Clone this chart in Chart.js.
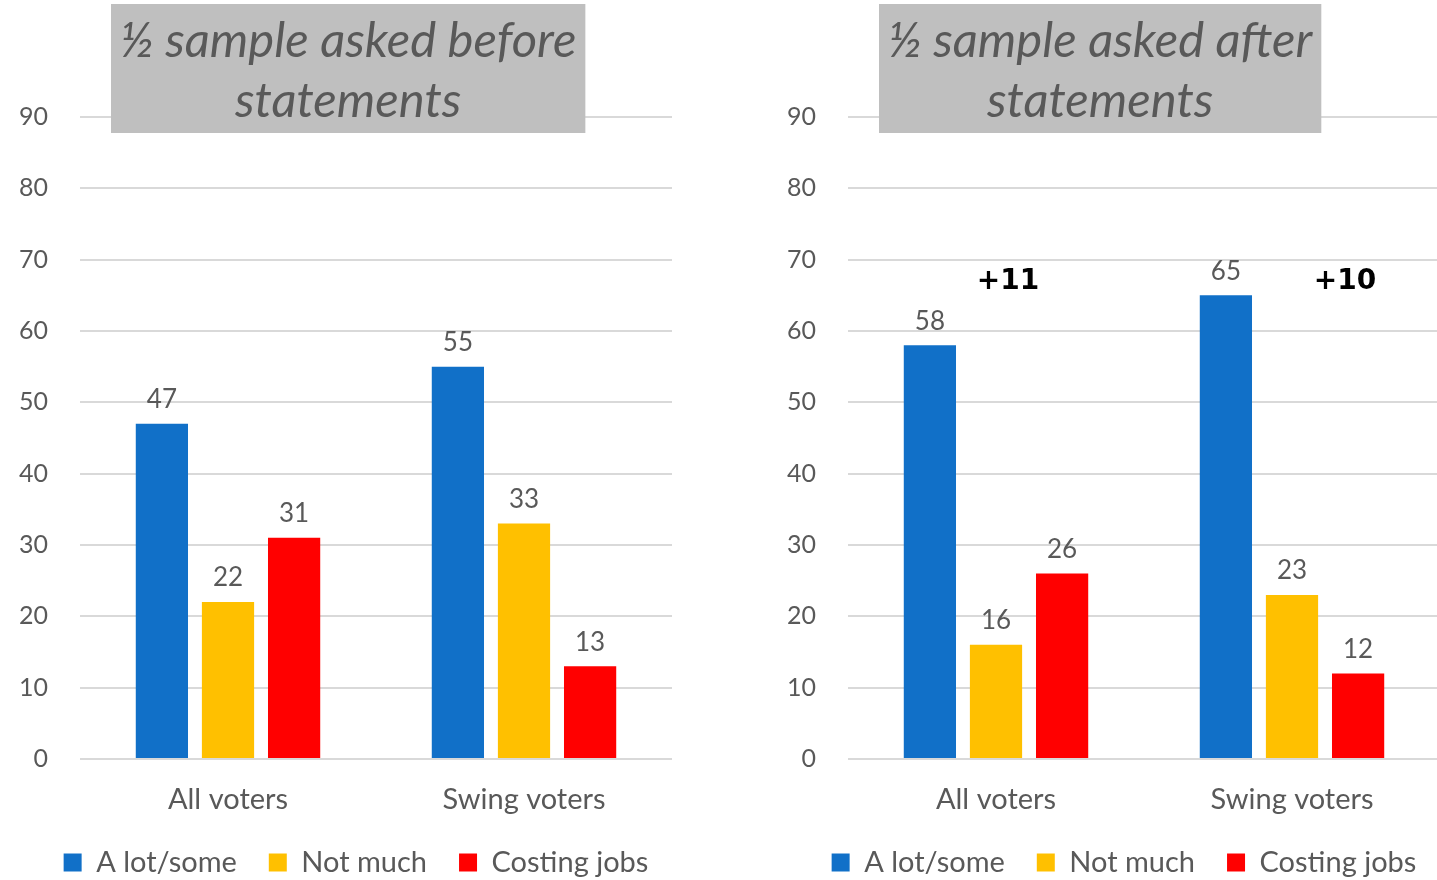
<!DOCTYPE html>
<html>
<head>
<meta charset="utf-8">
<script src="https://cdn.jsdelivr.net/npm/chart.js@4.4.0/dist/chart.umd.min.js"></script>
<style>
    body { margin: 0; width: 1437px; height: 880px; overflow: hidden; background: #fff; position: relative; }
    .panel { position: absolute; top: 0; width: 712px; height: 887px; }
</style>
</head>
<body>
<div class="panel" style="left:0"><canvas id="grafico1"></canvas></div>
<div class="panel" style="left:768px"><canvas id="grafico2"></canvas></div>
<script>
let categories = ['All voters', 'Swing voters']
let seriesNames = ['A lot/some', 'Not much', 'Costing jobs']
let seriesColors = ['#1170C8', '#FFC000', '#FF0000']
let yTicks = [0, 10, 20, 30, 40, 50, 60, 70, 80, 90]

let beforeALot = [47, 55]
let beforeNotMuch = [22, 33]
let beforeCosting = [31, 13]

let afterALot = [58, 65]
let afterNotMuch = [16, 23]
let afterCosting = [26, 12]

let titleBefore = ['\u00BD sample asked before', 'statements']
let titleAfter = ['\u00BD sample asked after', 'statements']

let changeNotes = ['+11', '+10']
let changeNoteShift = [12, 53]   // px from category centre
let changeNoteLevel = 66.9

const grey = '#595959'
const fontFamily = 'Lato, "Open Sans", sans-serif'

// numbers above the bars
const valueLabels = {
    id: 'valueLabels',
    afterDatasetsDraw(chart) {
        let ctx = chart.ctx
        ctx.save()
        ctx.font = '26px ' + fontFamily
        ctx.fillStyle = grey
        ctx.textAlign = 'center'
        ctx.textBaseline = 'bottom'
        chart.data.datasets.forEach((ds, i) => {
            chart.getDatasetMeta(i).data.forEach((bar, j) => {
                ctx.fillText(ds.data[j], bar.x, bar.y - 11)
            })
        })
        ctx.restore()
    }
}

// grey box with the italic title
const titleBox = {
    id: 'titleBox',
    afterDraw(chart, args, opts) {
        let ctx = chart.ctx
        ctx.save()
        ctx.font = 'italic 49px ' + fontFamily
        let w = Math.max(...opts.lines.map(l => ctx.measureText(l).width)) + 18
        ctx.fillStyle = '#BFBFBF'
        ctx.fillRect(111, 4, w, 129)
        ctx.fillStyle = grey
        ctx.textAlign = 'center'
        ctx.textBaseline = 'middle'
        opts.lines.forEach((l, i) => ctx.fillText(l, 111 + w / 2, 41 + i * 60))
        ctx.restore()
    }
}

// bold "+11" style notes
const notes = {
    id: 'notes',
    afterDatasetsDraw(chart, args, opts) {
        if (!opts.texts) return
        let ctx = chart.ctx
        let x = chart.scales.x, y = chart.scales.y
        ctx.save()
        ctx.font = 'bold 28px "DejaVu Sans", sans-serif'
        ctx.fillStyle = '#000'
        ctx.textAlign = 'center'
        ctx.textBaseline = 'middle'
        opts.texts.forEach((t, i) => {
            ctx.fillText(t, x.getPixelForValue(i) + opts.shift[i], y.getPixelForValue(opts.level))
        })
        ctx.restore()
    }
}

// legend sits centred a bit right of the plot, like the original
const legendShift = {
    id: 'legendShift',
    afterUpdate(chart) {
        chart.legend.left += 20
        chart.legend.right += 20
    }
}

function makeChart(id, aLot, notMuch, costing, title, noteTexts) {
    let values = [aLot, notMuch, costing]
    let ctx = document.getElementById(id)
    return new Chart(ctx, {
        type: 'bar',
        data: {
            labels: categories,
            datasets: values.map((v, i) => ({
                label: seriesNames[i],
                data: v,
                backgroundColor: seriesColors[i],
                borderWidth: 0,
                categoryPercentage: 0.67,
                barPercentage: 0.79
            }))
        },
        plugins: [valueLabels, titleBox, notes, legendShift],
        options: {
            responsive: true,
            maintainAspectRatio: false,
            animation: false,
            layout: { padding: { top: 117, right: 40, left: 0, bottom: 0 } },
            scales: {
                x: {
                    grid: { display: false },
                    border: { display: false },
                    afterFit: axis => { axis.height = 57 },
                    ticks: { color: grey, font: { family: fontFamily, size: 29 }, padding: 15 }
                },
                y: {
                    min: 0,
                    max: 90,
                    afterBuildTicks: axis => { axis.ticks = yTicks.map(v => ({ value: v })) },
                    afterFit: axis => { axis.width = 80 },
                    grid: { color: '#D9D9D9', lineWidth: 2, drawTicks: false },
                    border: { display: false },
                    ticks: { color: grey, font: { family: fontFamily, size: 25 }, padding: 32 }
                }
            },
            plugins: {
                legend: {
                    position: 'bottom',
                    labels: {
                        color: grey,
                        font: { family: fontFamily, size: 29 },
                        boxWidth: 18,
                        boxHeight: 18,
                        padding: 32
                    }
                },
                tooltip: { enabled: false },
                titleBox: { lines: title },
                notes: { texts: noteTexts, shift: changeNoteShift, level: changeNoteLevel }
            }
        }
    })
}

makeChart('grafico1', beforeALot, beforeNotMuch, beforeCosting, titleBefore, null)
makeChart('grafico2', afterALot, afterNotMuch, afterCosting, titleAfter, changeNotes)
</script>
</body>
</html>
